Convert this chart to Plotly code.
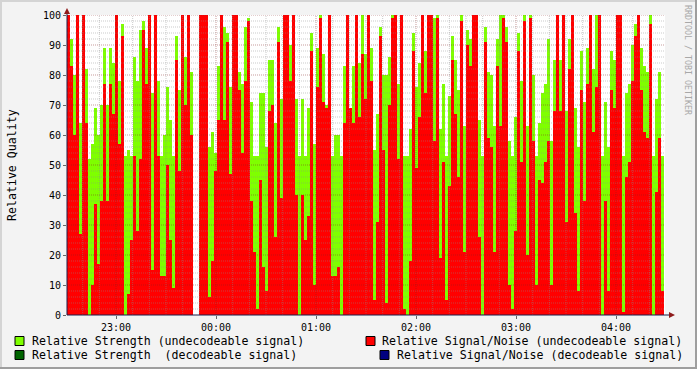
import plotly.graph_objects as go
from datetime import datetime, timedelta

# ---- data (one value per 108 s interval) ----
START = datetime(2024, 1, 1, 22, 30, 36)
STEP_S = 108

strength_undecodeable = [
    62, 92, 80, 73, 64, 88, 82, 52, 57, 69, 60, 70, 89, 70, 89, 84, 84, 78, 97, 53,
    55, 53, 86, 78, 95, 98, 89, 74, 74, 78, 78, 53, 60, 76, 65, 53, 93, 75, 96, 86,
    81, 81, None, None, 100, 100, 100, 56, 61, 54, 83, 65, 96, 94, 76, 60, 81, 81, 77, 96,
    99, 71, 53, 53, 74, 74, 56, 85, 85, 64, 96, 72, 79, 69, 90, 90, 72, 53, 72, 53,
    69, 94, 57, 89, 100, 87, 70, 89, 53, 60, 60, 53, 83, 89, 60, 83, 70, 84, 100, 87,
    89, 89, 55, 67, 96, 80, 80, 86, 100, 90, 77, 88, 53, 53, 62, 94, 76, 84, 69, 88,
    71, 80, 99, 100, 62, 77, 53, 73, 93, 85, 75, 100, 63, 95, 92, 78, 78, 65, 53, 96,
    81, 80, 63, 92, 100, 100, 96, 58, 53, 66, 94, 78, 100, 63, 100, 80, 53, 64, 74, 77,
    92, 58, 85, 74, 85, 85, 68, 92, 96, 69, 56, 88, 71, 89, 73, 82, 100, 93, 53, 71,
    56, 88, 85, 70, 100, 53, 74, 77, 90, 97, 98, 89, 83, 81, 100, 53, 72, 81, 53,
]
snr_undecodeable = [
    100, 83, 60, 100, 27, 100, 64, 0, 10, 37, 17, 38, 77, 38, 77, 67, 100, 57, 93, 0,
    7, 25, 53, 28, 52, 95, 77, 100, 15, 100, 53, 13, 13, 50, 25, 9, 85, 48, 100, 70,
    100, 60, None, None, 100, 100, 100, 6, 18, 48, 65, 100, 65, 91, 47, 100, 100, 75, 54, 78,
    98, 38, 21, 2, 45, 16, 8, 68, 70, 26, 91, 39, 100, 100, 78, 100, 40, 0, 40, 25,
    33, 88, 10, 76, 99, 71, 69, 100, 13, 13, 16, 0, 64, 100, 69, 64, 100, 66, 87, 72,
    100, 78, 5, 31, 93, 55, 4, 70, 99, 100, 52, 100, 2, 0, 18, 88, 49, 66, 100, 74,
    100, 100, 58, 99, 19, 51, 5, 43, 85, 67, 46, 98, 21, 90, 83, 100, 100, 26, 0, 91,
    59, 56, 21, 83, 63, 99, 91, 10, 2, 28, 88, 51, 98, 20, 99, 58, 10, 45, 44, 51,
    58, 10, 68, 100, 68, 100, 31, 82, 100, 34, 8, 75, 38, 77, 100, 61, 76, 100, 0, 38,
    8, 75, 69, 100, 100, 1, 46, 51, 78, 93, 100, 75, 61, 59, 97, 0, 41, 59, 8,
]

hour_ticks = ["23:00", "00:00", "01:00", "02:00", "03:00", "04:00"]
y_ticks = list(range(0, 101, 10))

legend_labels = [
    "Relative Strength (undecodeable signal)",
    "Relative Signal/Noise (undecodeable signal)",
    "Relative Strength  (decodeable signal)",
    "Relative Signal/Noise (decodeable signal)",
]
legend_colors = ["#7FFF00", "#FF0000", "#006400", "#000080"]

# ---- geometry helpers ----
W, H = 697, 369
L, R, T, B = 67, 665, 15, 315
END = START + timedelta(seconds=(R - L) * 36)


def px(xp):
    return (xp - L) / (R - L)


def py(yp):
    return (B - yp) / (B - T)


times = [START + timedelta(seconds=STEP_S * i) for i in range(len(strength_undecodeable))]

fig = go.Figure()
fig.add_trace(go.Bar(x=times, y=strength_undecodeable, width=STEP_S * 1000, offset=0,
                     marker=dict(color=legend_colors[0], line=dict(width=0)),
                     name=legend_labels[0], showlegend=False))
fig.add_trace(go.Bar(x=times, y=snr_undecodeable, width=STEP_S * 1000, offset=0,
                     marker=dict(color=legend_colors[1], line=dict(width=0)),
                     name=legend_labels[1], showlegend=False))

shapes = []
# horizontal grid
for v in range(2, 101, 2):
    major = v % 10 == 0
    shapes.append(dict(type="line", xref="paper", yref="y", x0=0, x1=1, y0=v, y1=v,
                       layer="above",
                       line=dict(width=1, dash="1px,1px",
                                 color="rgba(130,30,30,0.45)" if major else "rgba(140,140,140,0.45)")))
# vertical grid every 10 minutes
t = datetime(2024, 1, 1, 22, 40)
while t < END:
    major = t.minute == 0
    shapes.append(dict(type="line", xref="x", yref="paper", x0=t, x1=t, y0=0, y1=1,
                       layer="above",
                       line=dict(width=1, dash="1px,1px",
                                 color="rgba(130,30,30,0.45)" if major else "rgba(140,140,140,0.45)")))
    t += timedelta(minutes=10)

axis_col = "#1C1C4A"
arrow_col = "#8E1B1B"
shapes.append(dict(type="line", xref="paper", yref="paper", x0=px(L), x1=px(670), y0=py(315), y1=py(315),
                   layer="above", line=dict(width=1, color=axis_col)))
shapes.append(dict(type="line", xref="paper", yref="paper", x0=px(67), x1=px(67), y0=py(315), y1=py(12),
                   layer="above", line=dict(width=1, color=axis_col)))
shapes.append(dict(type="path", xref="paper", yref="paper", layer="above",
                   path=f"M {px(669)} {py(312)} L {px(675)} {py(315)} L {px(669)} {py(318)} Z",
                   fillcolor=arrow_col, line=dict(width=0)))
shapes.append(dict(type="path", xref="paper", yref="paper", layer="above",
                   path=f"M {px(64)} {py(14)} L {px(67)} {py(8)} L {px(70)} {py(14)} Z",
                   fillcolor=arrow_col, line=dict(width=0)))

# outer frame shading
shapes.append(dict(type="rect", xref="paper", yref="paper", x0=px(0), x1=px(W), y0=py(0), y1=py(2),
                   fillcolor="#D4D4D4", line=dict(width=0)))
shapes.append(dict(type="rect", xref="paper", yref="paper", x0=px(0), x1=px(2), y0=py(0), y1=py(H),
                   fillcolor="#D4D4D4", line=dict(width=0)))
shapes.append(dict(type="rect", xref="paper", yref="paper", x0=px(0), x1=px(W), y0=py(H - 2), y1=py(H),
                   fillcolor="#9E9E9E", line=dict(width=0)))
shapes.append(dict(type="rect", xref="paper", yref="paper", x0=px(W - 2), x1=px(W), y0=py(0), y1=py(H),
                   fillcolor="#9E9E9E", line=dict(width=0)))

# legend swatches & texts
mono = "DejaVu Sans Mono"
leg_pos = [(15, 30, 341), (366, 380, 341), (15, 30, 355), (380, 395, 355)]
annotations = []
for (sx, tx, cy), lab, col in zip(leg_pos, legend_labels, legend_colors):
    shapes.append(dict(type="rect", xref="paper", yref="paper",
                       x0=px(sx), x1=px(sx + 9), y0=py(cy - 4.5), y1=py(cy + 4.5),
                       fillcolor=col, line=dict(width=1, color="#000000")))
    annotations.append(dict(xref="paper", yref="paper", x=px(tx), y=py(cy), text=lab,
                            showarrow=False, xanchor="left", yanchor="middle",
                            font=dict(family=mono, size=11.6, color="#000000")))

annotations.append(dict(xref="paper", yref="paper", x=px(12), y=py(165), text="Relative Quality",
                        textangle=-90, showarrow=False, xanchor="center", yanchor="middle",
                        font=dict(family=mono, size=11.6, color="#000000")))
annotations.append(dict(xref="paper", yref="paper", x=px(688), y=py(60), text="RRDTOOL / TOBI OETIKER",
                        textangle=90, showarrow=False, xanchor="center", yanchor="middle",
                        font=dict(family=mono, size=8.3, color="#A8A8A8")))

hour_vals = [datetime(2024, 1, 1, 23, 0) + timedelta(hours=i) for i in range(len(hour_ticks))]

fig.update_layout(
    width=W, height=H,
    margin=dict(l=L, r=W - R, t=T, b=H - B, pad=0, autoexpand=False),
    paper_bgcolor="#F3F3F3", plot_bgcolor="#FFFFFF",
    barmode="overlay", bargap=0, showlegend=False,
    shapes=shapes, annotations=annotations,
    xaxis=dict(type="date", range=[START, END], tickvals=hour_vals, ticktext=hour_ticks,
               tickfont=dict(family=mono, size=10, color="#000000"),
               ticks="outside", ticklen=3, tickcolor="#666666", showgrid=False, zeroline=False,
               showline=False, fixedrange=True, automargin=False),
    yaxis=dict(range=[0, 100], tickvals=y_ticks, ticktext=[str(v) for v in y_ticks],
               tickfont=dict(family=mono, size=10, color="#000000"),
               ticks="outside", ticklen=3, tickcolor="#666666", showgrid=False, zeroline=False,
               showline=False, fixedrange=True, automargin=False),
)

fig.write_html("out.html", config={"displayModeBar": False},
               post_script="document.body.style.margin='0';document.body.style.padding='0';")
